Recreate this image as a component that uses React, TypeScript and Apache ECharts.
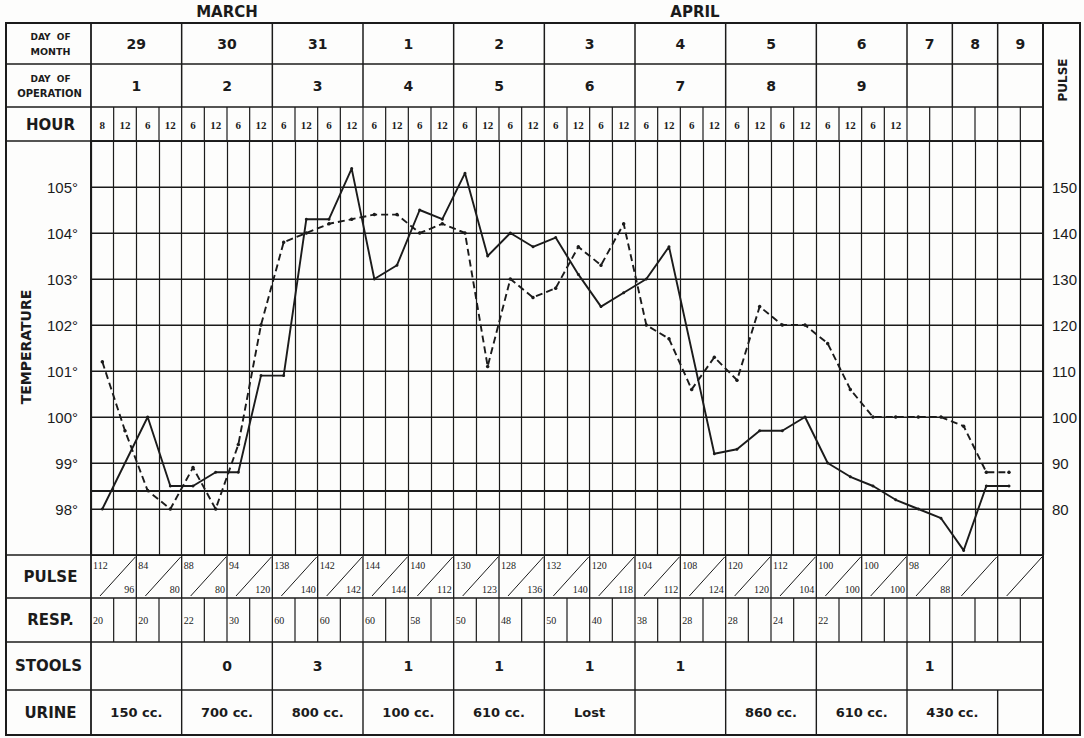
import React, { useEffect, useRef } from "react";
import * as echarts from "echarts";

// ---------- data ----------
const monthNames = ["MARCH", "APRIL"];
const monthFirstDay = [0, 3];
const monthLastDay = [2, 11];
const daysOfMonth = ["29", "30", "31", "1", "2", "3", "4", "5", "6", "7", "8", "9"];
const daysOfOperation = ["1", "2", "3", "4", "5", "6", "7", "8", "9", "", "", ""];
const readingsPerDay = [4, 4, 4, 4, 4, 4, 4, 4, 4, 2, 2, 2];
const hourLabels = [
  "8", "12", "6", "12",
  "6", "12", "6", "12",
  "6", "12", "6", "12",
  "6", "12", "6", "12",
  "6", "12", "6", "12",
  "6", "12", "6", "12",
  "6", "12", "6", "12",
  "6", "12", "6", "12",
  "6", "12", "6", "12",
  "", "", "", "", "", "",
];
// temperature (°F), solid line
const temperature = [
  98.0, null, 100.0, 98.5,
  98.5, 98.8, 98.8, 100.9,
  100.9, 104.3, 104.3, 105.4,
  103.0, 103.3, 104.5, 104.3,
  105.3, 103.5, 104.0, 103.7,
  103.9, 103.1, 102.4, 102.7,
  103.0, 103.7, null, 99.2,
  99.3, 99.7, 99.7, 100.0,
  99.0, 98.7, 98.5, 98.2,
  98.0, 97.8, 97.1, 98.5,
  98.5, null,
];
// pulse (beats/min), dashed line
const pulse = [
  112, 97, 84, 80,
  89, 80, 94, 120,
  138, 140, 142, 143,
  144, 144, 140, 142,
  140, 111, 130, 126,
  128, 137, 133, 142,
  120, 117, 106, 113,
  108, 124, 120, 120,
  116, 106, 100, 100,
  100, 100, 98, 88,
  88, null,
];
const normalTemperature = 98.4;
const tempGridLines = [97, 98, 99, 100, 101, 102, 103, 104, 105, 106];
const tempTicks = [98, 99, 100, 101, 102, 103, 104, 105];
const pulseTicks = [80, 90, 100, 110, 120, 130, 140, 150];
// PULSE row of the table: one cell per two readings
const pulseTableTop = ["112", "84", "88", "94", "138", "142", "144", "140", "130", "128", "132", "120", "104", "108", "120", "112", "100", "100", "98", "", ""];
const pulseTableBottom = ["96", "80", "80", "120", "140", "142", "144", "112", "123", "136", "140", "118", "112", "124", "120", "104", "100", "100", "88", "", ""];
// RESP row: one value every second reading
const respirations = ["20", "20", "22", "30", "60", "60", "60", "58", "50", "48", "50", "40", "38", "28", "28", "24", "22"];
const stools = ["", "0", "3", "1", "1", "1", "1", "", "", "1", "", ""];
const urine = ["150 cc.", "700 cc.", "800 cc.", "100 cc.", "610 cc.", "Lost", "", "860 cc.", "610 cc.", "430 cc.", "", ""];

// ---------- layout ----------
const W = 1084;
const H = 738;
const TOP = 23;
const ROW_MONTH = 64;
const ROW_OP = 107;
const PLOT_TOP = 141;
const PLOT_BOTTOM = 555;
const ROW_PULSE = 598;
const ROW_RESP = 642;
const ROW_STOOLS = 690;
const BOTTOM = 735;
const LEFT = 6;
const PLOT_LEFT = 91;
const PLOT_RIGHT = 1043;
const RIGHT = 1080;
const ink = "#1b1b1b";
const SANS = "'DejaVu Sans', sans-serif";
const SERIF = "'Liberation Serif', 'DejaVu Serif', serif";

export default function App() {
  const ref = useRef<HTMLDivElement>(null);
  useEffect(() => {
    const el = ref.current!;
    const chart = echarts.init(el, null, { renderer: "svg" });
    const n = hourLabels.length;
    chart.setOption({
      animation: false,
      backgroundColor: "#fdfdfc",
      grid: { left: PLOT_LEFT, top: PLOT_TOP, width: PLOT_RIGHT - PLOT_LEFT, height: PLOT_BOTTOM - PLOT_TOP },
      xAxis: {
        type: "category",
        position: "top",
        data: hourLabels.map((_, i) => String(i)),
        boundaryGap: true,
        axisLine: { show: true, lineStyle: { color: ink, width: 1.5 } },
        axisTick: { show: false },
        axisLabel: {
          interval: 0,
          margin: 11,
          formatter: (_v: string, i: number) => hourLabels[i],
          color: ink,
          fontFamily: SERIF,
          fontWeight: "bold",
          fontSize: 11,
        },
        splitLine: { show: true, interval: 0, lineStyle: { color: ink, width: 1.2 } },
      },
      yAxis: [
        {
          type: "value",
          min: 97,
          max: 106,
          interval: 1,
          position: "left",
          axisLine: { show: true, lineStyle: { color: ink, width: 1.8 } },
          axisTick: { show: false },
          axisLabel: {
            margin: 13,
            color: ink,
            fontFamily: "'Liberation Sans', sans-serif",
            fontSize: 15,
            formatter: (v: number) => (tempTicks.includes(v) ? `${v}°` : ""),
          },
          splitLine: { show: true, lineStyle: { color: ink, width: 1.2 } },
        },
        {
          type: "value",
          min: 70,
          max: 160,
          interval: 10,
          position: "right",
          axisLine: { show: true, lineStyle: { color: ink, width: 1.8 } },
          axisTick: { show: false },
          axisLabel: {
            margin: 9,
            color: ink,
            fontFamily: "'Liberation Sans', sans-serif",
            fontSize: 15,
            formatter: (v: number) => (pulseTicks.includes(v) ? `${v}` : ""),
          },
          splitLine: { show: false },
        },
      ],
      series: [
        {
          name: "Temperature",
          type: "line",
          data: temperature,
          connectNulls: true,
          symbol: "circle",
          symbolSize: 3,
          itemStyle: { color: ink },
          lineStyle: { color: ink, width: 1.9 },
          markLine: {
            silent: true,
            symbol: "none",
            label: { show: false },
            lineStyle: { color: ink, width: 2.2, type: "solid" },
            data: [{ yAxis: normalTemperature }],
          },
          z: 3,
        },
        {
          name: "Pulse",
          type: "line",
          yAxisIndex: 1,
          data: pulse,
          connectNulls: true,
          symbol: "circle",
          symbolSize: 3.5,
          itemStyle: { color: ink },
          lineStyle: { color: ink, width: 1.9, type: [7, 4] },
          z: 3,
        },
      ],
    });

    const c0 = chart.convertToPixel({ xAxisIndex: 0 }, 0) as number;
    const c1 = chart.convertToPixel({ xAxisIndex: 0 }, 1) as number;
    const w = c1 - c0;
    const xb = (i: number) => c0 - w / 2 + i * w;
    const ty = (v: number) => chart.convertToPixel({ yAxisIndex: 0 }, v) as number;
    const dayStart: number[] = [];
    let acc = 0;
    readingsPerDay.forEach((r) => {
      dayStart.push(acc);
      acc += r;
    });
    const dayCenter = (d: number) => (xb(dayStart[d]) + xb(dayStart[d] + readingsPerDay[d])) / 2;

    const g: any[] = [];
    const line = (x1: number, y1: number, x2: number, y2: number, lw = 1.3) =>
      g.push({ type: "line", silent: true, z: 1, shape: { x1, y1, x2, y2 }, style: { stroke: ink, lineWidth: lw } });
    const text = (t: string, x: number, y: number, font: string, align = "center", rotation = 0) =>
      g.push({
        type: "text",
        silent: true,
        x,
        y,
        rotation,
        style: { text: t, font, fill: ink, textAlign: align, textVerticalAlign: "middle", align, verticalAlign: "middle" },
      });

    // temperature grid lines (through the temperature axis)
    tempGridLines.forEach((v) => line(xb(0), ty(v), xb(n), ty(v), 1.2));

    // frame
    g.push({
      type: "rect",
      silent: true,
      shape: { x: LEFT, y: TOP, width: RIGHT - LEFT, height: BOTTOM - TOP },
      style: { fill: "none", stroke: ink, lineWidth: 2 },
    });
    [ROW_MONTH, ROW_OP, PLOT_TOP, PLOT_BOTTOM, ROW_PULSE, ROW_RESP, ROW_STOOLS].forEach((y) =>
      line(LEFT, y, PLOT_RIGHT, y, 1.6)
    );
    line(PLOT_LEFT, TOP, PLOT_LEFT, BOTTOM, 1.8);
    line(PLOT_RIGHT, TOP, PLOT_RIGHT, BOTTOM, 2);

    // header day columns
    for (let d = 1; d < readingsPerDay.length; d++) line(xb(dayStart[d]), TOP, xb(dayStart[d]), ROW_OP, 1.5);
    // hour row
    for (let i = 1; i < n; i++) line(xb(i), ROW_OP, xb(i), PLOT_TOP, 1.2);
    // pulse row cells
    for (let k = 0; k < pulseTableTop.length; k++) {
      const l = xb(2 * k);
      const r = xb(2 * k + 2);
      if (k > 0) line(l, PLOT_BOTTOM, l, ROW_PULSE, 1.3);
      line(l + 9, ROW_PULSE - 2, r - 1, PLOT_BOTTOM + 2, 1);
      if (pulseTableTop[k]) text(pulseTableTop[k], l + 2, PLOT_BOTTOM + 10, `10px ${SERIF}`, "left");
      if (pulseTableBottom[k]) text(pulseTableBottom[k], r - 2, ROW_PULSE - 9, `10px ${SERIF}`, "right");
    }
    // resp row
    for (let i = 1; i < n; i++) line(xb(i), ROW_PULSE, xb(i), ROW_RESP, 1.2);
    respirations.forEach((v, k) => text(v, xb(2 * k) + 2, (ROW_PULSE + ROW_RESP) / 2, `10px ${SERIF}`, "left"));
    // stools row (days 8 and 9 share a cell)
    for (let d = 1; d < readingsPerDay.length; d++) {
      if (d === 11) continue;
      line(xb(dayStart[d]), ROW_RESP, xb(dayStart[d]), ROW_STOOLS, 1.4);
    }
    stools.forEach((s, d) => s && text(s, dayCenter(d), (ROW_RESP + ROW_STOOLS) / 2, `bold 14px ${SANS}`));
    // urine row (days 7 and 8 share a cell)
    for (let d = 1; d < readingsPerDay.length; d++) {
      if (d === 10) continue;
      line(xb(dayStart[d]), ROW_STOOLS, xb(dayStart[d]), BOTTOM, 1.4);
    }
    urine.forEach((u, d) => {
      if (!u) return;
      const x = d === 9 ? (xb(dayStart[9]) + xb(dayStart[11])) / 2 : dayCenter(d);
      text(u, x, (ROW_STOOLS + BOTTOM) / 2, `bold 13px ${SANS}`);
    });

    // day numbers
    daysOfMonth.forEach((s, d) => text(s, dayCenter(d), (TOP + ROW_MONTH) / 2, `bold 14px ${SANS}`));
    daysOfOperation.forEach((s, d) => s && text(s, dayCenter(d), (ROW_MONTH + ROW_OP) / 2, `bold 14px ${SANS}`));
    // months
    monthNames.forEach((m, k) => {
      const x = (xb(dayStart[monthFirstDay[k]]) + xb(dayStart[monthLastDay[k]] + readingsPerDay[monthLastDay[k]])) / 2;
      text(m, k === 1 ? x - 8 : x, 12, `bold 15px ${SANS}`);
    });

    // label column
    const lc = (LEFT + PLOT_LEFT) / 2 + 2;
    text("DAY  OF", lc, 37, `bold 9px ${SANS}`);
    text("MONTH", lc, 51, `bold 9.5px ${SANS}`);
    text("DAY  OF", lc, 79, `bold 9px ${SANS}`);
    text("OPERATION", lc - 1, 93, `bold 10px ${SANS}`);
    text("HOUR", lc, 125, `bold 15px ${SANS}`);
    text("TEMPERATURE", 26, 347, `bold 14px ${SANS}`, "center", Math.PI / 2);
    text("PULSE", lc, (PLOT_BOTTOM + ROW_PULSE) / 2, `bold 15px ${SANS}`);
    text("RESP.", lc, (ROW_PULSE + ROW_RESP) / 2, `bold 15px ${SANS}`);
    text("STOOLS", lc - 2, (ROW_RESP + ROW_STOOLS) / 2, `bold 15px ${SANS}`);
    text("URINE", lc, (ROW_STOOLS + BOTTOM) / 2, `bold 15px ${SANS}`);
    text("PULSE", (PLOT_RIGHT + RIGHT) / 2 + 1, 80, `bold 12px ${SANS}`, "center", Math.PI / 2);

    chart.setOption({ graphic: g });
    return () => chart.dispose();
  }, []);
  return <div ref={ref} style={{ position: "absolute", left: 0, top: 0, width: W, height: H }} />;
}
